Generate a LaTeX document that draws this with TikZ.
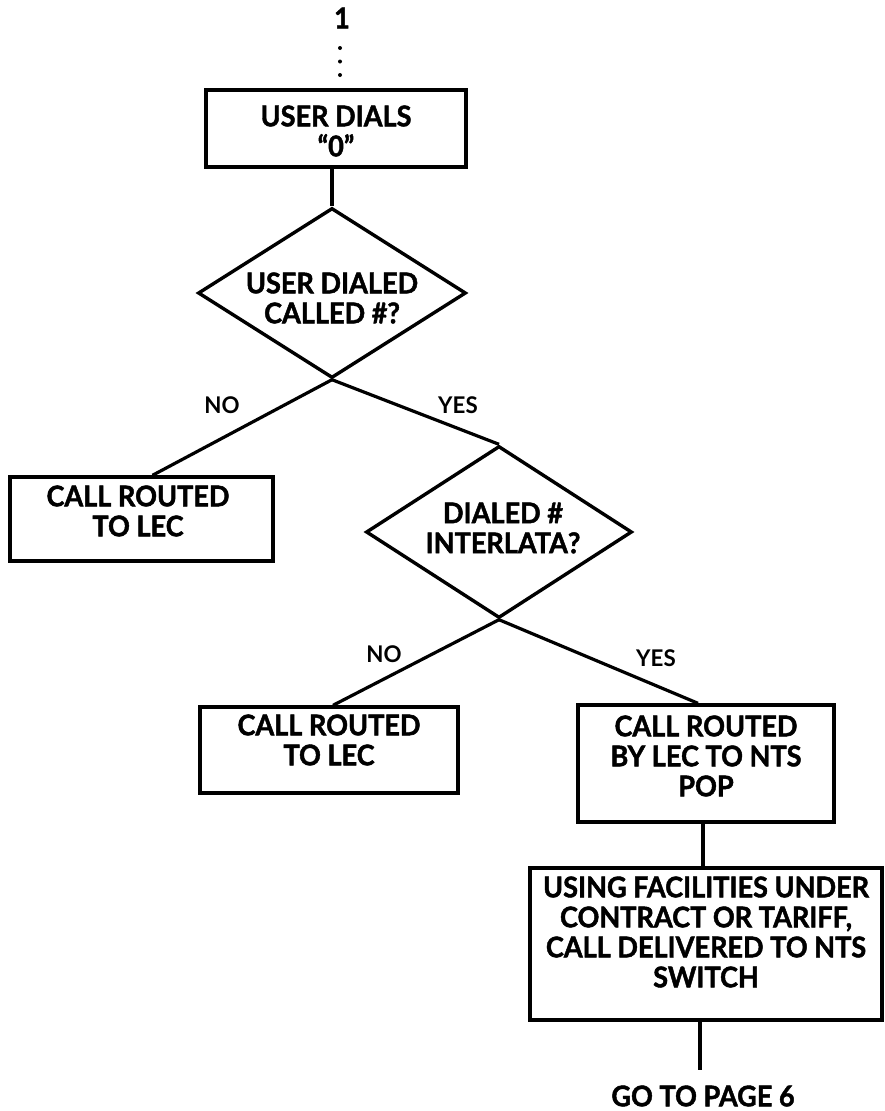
\documentclass[tikz,border=0pt]{standalone}
\usepackage{fontspec}
\setmainfont{Lato}[FakeStretch=0.95, BoldFeatures={FakeBold=1.6}]
\newfontfamily\labelfont{Lato}[FakeStretch=0.97]
\usetikzlibrary{shapes.geometric,calc}

\begin{document}
\begin{tikzpicture}[x=1pt,y=-1pt,
  txt/.style={font=\bfseries\fontsize{28.5}{30}\selectfont, align=center, inner sep=0pt},
  lbl/.style={font=\labelfont\bfseries\fontsize{23}{25}\selectfont, inner sep=0pt},
  box/.style={draw, rectangle, line width=3.4pt, inner sep=0pt},
  dec/.style={draw, diamond, line width=3.4pt, inner sep=0pt, aspect=1.57},
  wire/.style={line width=3.2pt}
]
\useasboundingbox (0,0) rectangle (884,1111);

% entry point from the previous page
\node[txt] (one) at (342,18) {1};

% boxes and decisions
\node[box, minimum width=260pt, minimum height=77pt]  (dial)  at (336,128.5) {};
\node[dec, minimum width=268pt, minimum height=170pt] (q1)    at (332,293) {};
\node[box, minimum width=263pt, minimum height=84pt]  (lec1)  at (141.5,519) {};
\node[dec, minimum width=266pt, minimum height=172pt] (q2)    at (499,532) {};
\node[box, minimum width=258pt, minimum height=86pt]  (lec2)  at (329,750) {};
\node[box, minimum width=256pt, minimum height=117pt] (pop)   at (706,763.5) {};
\node[box, minimum width=352pt, minimum height=152pt] (sw)    at (706,944) {};

% texts
\node[txt] (tdial) at (336,131) {USER DIALS\\``0''};
\node[txt] (tq1)   at (332,298) {USER DIALED\\CALLED \#?};
\node[txt] (tlec1) at (138,511) {CALL ROUTED\\TO LEC};
\node[txt] (tq2)   at (503,528) {DIALED \#\\INTERLATA?};
\node[txt] (tlec2) at (329,740) {CALL ROUTED\\TO LEC};
\node[txt] (tpop)  at (706,756) {CALL ROUTED\\BY LEC TO NTS\\POP};
\node[txt] (tsw)   at (706,932) {USING FACILITIES UNDER\\CONTRACT OR TARIFF,\\CALL DELIVERED TO NTS\\SWITCH};
\node[txt] (next)  at (703,1096) {GO TO PAGE 6};

% branch labels
\node[lbl] (no1)  at (222,405) {NO};
\node[lbl] (yes1) at (458,405) {YES};
\node[lbl] (no2)  at (384,654) {NO};
\node[lbl] (yes2) at (656,658) {YES};

% connectors
\draw[line width=4pt, line cap=round, dash pattern=on 0pt off 13.5pt]
  (340,48) -- (340,88);
\draw[wire] (q1.north) -- (q1.north |- dial.south);
\draw[wire] (q1.south) -- ([xshift=11pt]lec1.north);
\draw[wire] (q1.south) -- (q2.north);
\draw[wire] (q2.south) -- ([xshift=4pt]lec2.north);
\draw[wire] (q2.south) -- ([xshift=-8pt]pop.north);
\draw[wire] ([xshift=-3pt]pop.south) -- ([xshift=-3pt]pop.south |- sw.north);
\coordinate (tail) at (700,1070);
\draw[wire] (tail |- sw.south) -- (tail);
\end{tikzpicture}
\end{document}
